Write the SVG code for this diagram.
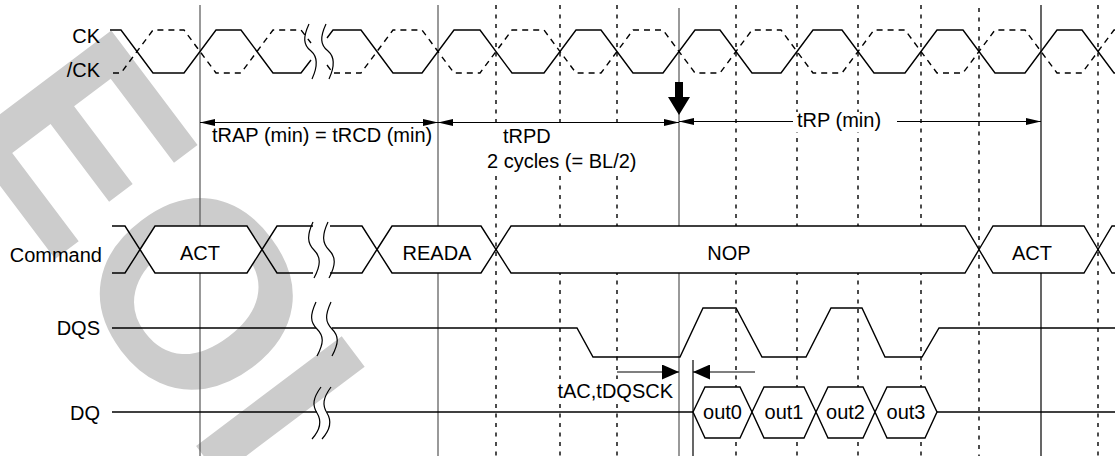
<svg xmlns="http://www.w3.org/2000/svg" width="1115" height="456" viewBox="0 0 1115 456">
<style>
.t{font-family:"Liberation Sans",Arial,Helvetica,sans-serif;font-size:20px;fill:#000}
.r{text-anchor:end}
.m{text-anchor:middle}
.sig{fill:none;stroke:#000;stroke-width:1.4;stroke-linejoin:miter}
.dsig{fill:none;stroke:#000;stroke-width:1.4;stroke-dasharray:6 5}
.hex{fill:#fff;stroke:#000;stroke-width:1.4}
.vs{stroke:#555;stroke-width:1.2}
.vk{stroke:#000;stroke-width:1.2}
.vd{stroke:#000;stroke-width:1.4;stroke-dasharray:4 5.5}
.brk{fill:none;stroke:#000;stroke-width:1.2}
.arr{stroke:#000;stroke-width:1.2;fill:none}
.bg{fill:#fff}
.wm{font-family:"Liberation Sans",Arial,sans-serif;font-weight:bold;font-size:265px;fill:#ccc}
</style>
<defs>
<marker id="ah" viewBox="0 0 15 7" refX="15" refY="3.5" markerWidth="15" markerHeight="7" markerUnits="userSpaceOnUse" orient="auto-start-reverse"><path d="M0,0 L15,3.5 L0,7 z" fill="#000"/></marker>
<marker id="ahb" viewBox="0 0 17 15" refX="17" refY="7.5" markerWidth="17" markerHeight="15" markerUnits="userSpaceOnUse" orient="auto-start-reverse"><path d="M0,0 L17,7.5 L0,15 z" fill="#000"/></marker>
</defs>
<rect width="1115" height="456" fill="#fff"/>
<g id="watermark"><text class="wm" transform="translate(-45,126) rotate(53)">EOL</text></g>

<g id="gridlines">
<line class="vs" x1="200" y1="5" x2="200" y2="456"/>
<line class="vs" x1="438" y1="5" x2="438" y2="456"/>
<line class="vs" x1="679" y1="8" x2="679" y2="456"/>
<line class="vk" x1="1041" y1="5" x2="1041" y2="456"/>
<line class="vk" x1="693" y1="360" x2="693" y2="456"/>
<line class="vd" x1="496" y1="5" x2="496" y2="456"/>
<line class="vd" x1="560" y1="5" x2="560" y2="456"/>
<line class="vd" x1="617" y1="5" x2="617" y2="456"/>
<line class="vd" x1="736" y1="5" x2="736" y2="456"/>
<line class="vd" x1="797" y1="5" x2="797" y2="456"/>
<line class="vd" x1="858" y1="5" x2="858" y2="456"/>
<line class="vd" x1="921" y1="5" x2="921" y2="456"/>
<line class="vd" x1="979" y1="8" x2="979" y2="456"/>
<line class="vd" x1="1098" y1="5" x2="1098" y2="456"/>
</g>

<g id="label-backgrounds">
<rect class="bg" x="480" y="127" width="160" height="45"/>
<rect class="bg" x="793" y="112" width="104" height="20"/>
<rect class="bg" x="555" y="379" width="121" height="23"/>
</g>

<g id="clock">
<path class="sig" d="M110,30 L121,30 L153,73 L184,73 L216,30 L241,30 L273,73 L301,73 L311,60"/>
<path class="sig" d="M327,38 L333,30 L361,30 L393,73 L422,73 L454,30 L480,30 L512,73 L544,73 L576,30 L601,30 L633,73 L663,73 L695,30 L720,30 L752,73 L781,73 L813,30 L842,30 L874,73 L905,73 L937,30 L963,30 L995,73 L1025,73 L1057,30 L1082,30 L1114,73 L1116,73"/>
<path class="dsig" d="M113,73 L121,73 L153,30 L184,30 L216,73 L241,73 L273,30 L301,30 L311,43"/>
<path class="dsig" d="M327,65 L333,73 L361,73 L393,30 L422,30 L454,73 L480,73 L512,30 L544,30 L576,73 L601,73 L633,30 L663,30 L695,73 L720,73 L752,30 L781,30 L813,73 L842,73 L874,30 L905,30 L937,73 L963,73 L995,30 L1025,30 L1057,73 L1082,73 L1114,30 L1116,30"/>
<path class="brk" d="M309,24 C303,37 303,45 311,51 C318,57 318,66 312,79"/>
<path class="brk" d="M326,24 C320,37 320,45 328,51 C335,57 335,66 329,79"/>
<text class="t r" x="100" y="43">CK</text>
<text class="t r" x="100" y="77">/CK</text>
</g>

<g id="command">
<path class="sig" d="M112,226 L125,226 L140,249.5 L125,273 L112,273"/>
<polygon class="hex" points="140,249.5 155,226 247,226 262,249.5 247,273 155,273"/>
<path class="sig" d="M313,226 L277,226 L262,249.5 L277,273 L313,273"/>
<path class="sig" d="M330,226 L362,226 L377,249.5 L362,273 L330,273"/>
<polygon class="hex" points="377,249.5 392,226 481,226 496,249.5 481,273 392,273"/>
<polygon class="hex" points="496,249.5 511,226 965,226 979,249.5 965,273 511,273"/>
<polygon class="hex" points="979,249.5 993,226 1084,226 1098,249.5 1084,273 993,273"/>
<path class="sig" d="M1116,226 L1112,226 L1098,249.5 L1112,273 L1116,273"/>
<path class="brk" d="M313,222 C307,235 307,243 314,250 C321,257 321,265 314,278"/>
<path class="brk" d="M328,222 C322,235 322,243 329,250 C336,257 336,265 329,278"/>
<text class="t r" x="102" y="262">Command</text>
<text class="t m" x="200" y="260">ACT</text>
<text class="t m" x="437" y="260">READA</text>
<text class="t m" x="729" y="260">NOP</text>
<text class="t m" x="1032" y="260">ACT</text>
</g>

<g id="dqs">
<path class="sig" d="M112,328 L316,328"/>
<path class="sig" d="M332,328 L577,328 L593,357 L680,357 L703,308 L736,308 L762,357 L806,357 L831,308 L862,308 L885,357 L922,357 L939,328 L1116,328"/>
<path class="brk" d="M316,302 C310,315 310,322 317,329 C324,336 324,343 317,356"/>
<path class="brk" d="M331,302 C325,315 325,322 332,329 C339,336 339,343 332,356"/>
<text class="t r" x="100" y="335">DQS</text>
</g>

<g id="dq">
<path class="sig" d="M112,412 L317,412"/>
<path class="sig" d="M327,412 L693,412"/>
<polygon class="hex" points="693,412 705,387 740,387 752,412 740,438 705,438"/>
<polygon class="hex" points="752,412 764,387 804,387 816,412 804,438 764,438"/>
<polygon class="hex" points="816,412 828,387 863,387 875,412 863,438 828,438"/>
<polygon class="hex" points="875,412 887,387 925,387 937,412 925,438 887,438"/>
<path class="sig" d="M937,412 L1116,412"/>
<path class="brk" d="M321,387 C313,398 312,405 317,413 C322,421 320,430 312,439"/>
<path class="brk" d="M331,387 C323,398 322,405 327,413 C332,421 330,430 322,439"/>
<text class="t r" x="100" y="420">DQ</text>
<text class="t m" x="722.5" y="419">out0</text>
<text class="t m" x="784" y="419">out1</text>
<text class="t m" x="845.5" y="419">out2</text>
<text class="t m" x="906" y="419">out3</text>
</g>

<g id="connectors">
<line class="arr" x1="200" y1="122.5" x2="438" y2="122.5" marker-start="url(#ah)" marker-end="url(#ah)"/>
<line class="arr" x1="438" y1="122.5" x2="679" y2="122.5" marker-start="url(#ah)" marker-end="url(#ah)"/>
<line class="arr" x1="679" y1="121.5" x2="793" y2="121.5" marker-start="url(#ah)"/>
<line class="arr" x1="897" y1="121.5" x2="1041" y2="121.5" marker-end="url(#ah)"/>
<line class="arr" x1="617" y1="372" x2="679" y2="372" marker-end="url(#ahb)"/>
<line class="arr" x1="755" y1="372" x2="693" y2="372" marker-end="url(#ahb)"/>
<path d="M675,82 L683,82 L683,97 L690,97 L679,115 L668,97 L675,97 z" fill="#000"/>
</g>

<g id="timing-labels">
<text class="t" x="212" y="142">tRAP (min) = tRCD (min)</text>
<text class="t" x="503" y="143">tRPD</text>
<text class="t" x="487" y="168">2 cycles (= BL/2)</text>
<text class="t" x="797" y="127">tRP (min)</text>
<text class="t r" x="673" y="398">tAC,tDQSCK</text>
</g>
</svg>
